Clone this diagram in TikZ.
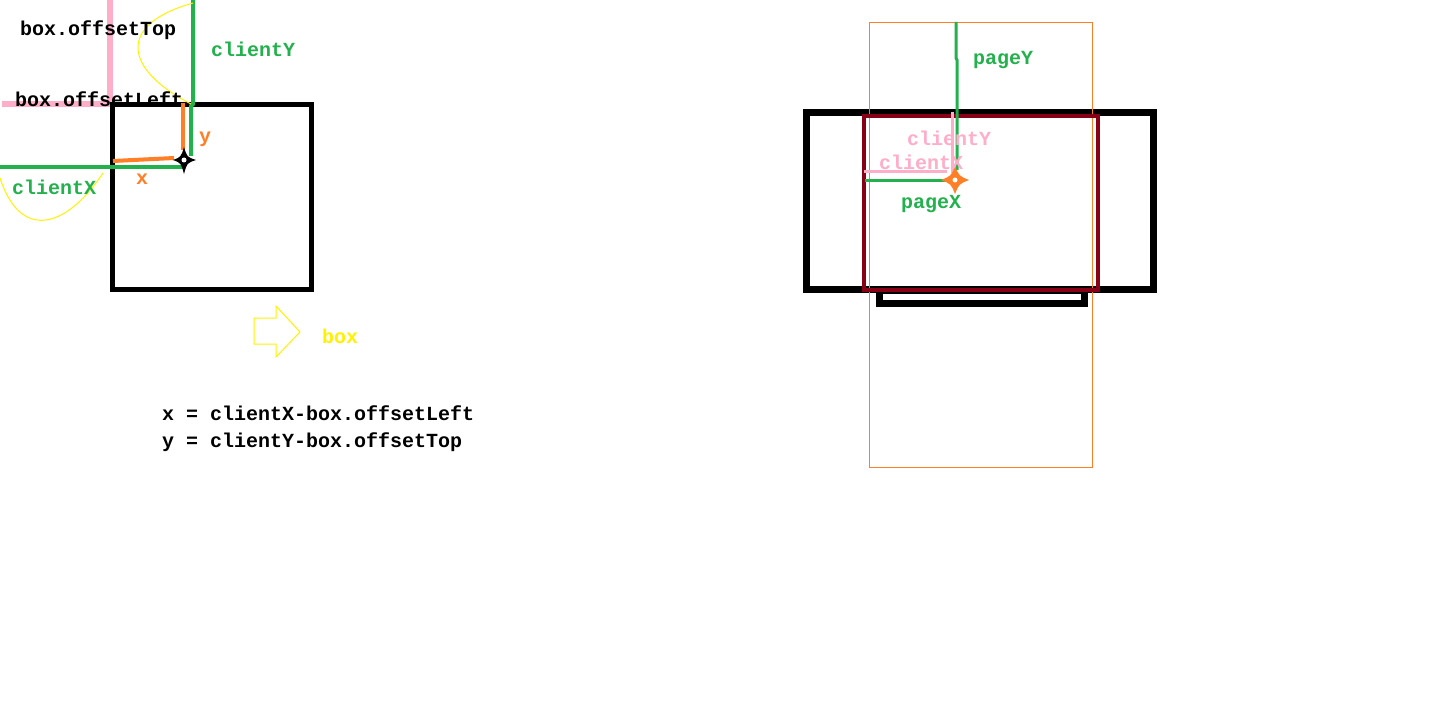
\documentclass[tikz,border=0pt]{standalone}
\usepackage{fontspec}
\setmonofont{Liberation Mono}
\usetikzlibrary{positioning}
\definecolor{paintpink}{HTML}{FFAEC9}
\definecolor{paintgreen}{HTML}{22B14C}
\definecolor{paintorange}{HTML}{FF7F27}
\definecolor{paintyellow}{HTML}{FFF200}
\definecolor{paintred}{HTML}{880015}
\tikzset{
	every node/.style = {inner sep=0pt, anchor=base west, font=\ttfamily\bfseries\fontsize{20}{24}\selectfont},
	pinkpen/.style = {draw=paintpink, line width=6pt},
	greenpen/.style = {draw=paintgreen, line width=4pt},
	orangepen/.style = {draw=paintorange, line width=4pt},
	yellowpen/.style = {draw=paintyellow, line width=1pt},
	boxpen/.style = {draw=black, line width=5pt},
	greentext/.style = {text=paintgreen},
	pinktext/.style = {text=paintpink},
	orangetext/.style = {text=paintorange},
	star/.style = {line join=round}
}

\begin{document}
\begin{tikzpicture}[x=1pt, y=-1pt]
	\useasboundingbox[fill=white] (0,0) rectangle (1434,722);
	% left: offset inside the box
	\coordinate (ptr) at (184,160);
	\draw[pinkpen] (110,0) -- (110,107);
	\draw[pinkpen] (2,104) -- (110,104);
	\draw[boxpen] (112,105) rectangle (311,289);
	\draw[greenpen] (193,0) -- (193,104) -- (191,106) -- (191,156);
	\draw[greenpen] (0,167) -- (183,167);
	\draw[orangepen] (183,103) -- (183,150);
	\draw[orangepen] (113,161) -- (174,158);
	\fill[black, star, shift={(ptr)}] (0,-13) .. controls (3,-3) .. (12,0) .. controls (3,3) .. (0,14) .. controls (-3,3) .. (-11,0) .. controls (-3,-3) .. cycle;
	\fill[white] (ptr) circle (2.5);
	\draw[yellowpen] (193,3) .. controls (115,25) and (125,70) .. (191,104);
	\draw[yellowpen] (0,178) .. controls (20,240) and (65,230) .. (103,173);
	\draw[yellowpen] (254,318) -- (276,318) -- (276,306) -- (300,332) -- (276,357) -- (276,344) -- (254,344) -- cycle;
	\node (top) at (20,36) {box.offsetTop};
	\node (left) at (15,107) {box.offsetLeft};
	\node[greentext] (cy) at (211,57) {clientY};
	\node[greentext] (cx) at (12,195) {clientX};
	\node[orangetext] (ly) at (199,143) {y};
	\node[orangetext] (lx) at (136,185) {x};
	\node[text=paintyellow] (boxname) at (322,343) {box};
	\node (xlaw) at (162,420) {x = clientX-box.offsetLeft};
	\node (ylaw) at (162,447) {y = clientY-box.offsetTop};
	% right: page and client
	\coordinate (mouse) at (955,180);
	\draw[black, line width=7pt] (879.5,290) rectangle (1084.5,303.5);
	\draw[black, line width=7pt] (806.5,112.5) rectangle (1153.5,289.5);
	\draw[paintorange, line width=1pt] (869.5,22.5) rectangle (1092.5,467.5);
	\draw[paintred, line width=4pt] (864,116) rectangle (1098,290);
	\draw[greenpen, line width=3pt] (956,22) -- (956,58) -- (957,60) -- (957,170);
	\draw[greenpen, line width=3pt] (865,181) -- (947,181);
	\draw[pinkpen, line width=3pt] (952,112) -- (952,173);
	\draw[pinkpen, line width=3pt] (864,172) -- (947,172);
	\fill[paintorange, star, shift={(mouse)}] (0,-14) .. controls (4,-4) .. (14,0) .. controls (4,4) .. (0,14) .. controls (-4,4) .. (-14,0) .. controls (-4,-4) .. cycle;
	\fill[white] (mouse) circle (2.5);
	\node[greentext] (py) at (973,65) {pageY};
	\node[pinktext] (ry) at (907,146) {clientY};
	\node[pinktext] (rx) at (879,170) {clientX};
	\node[greentext] (px) at (901,208) {pageX};
\end{tikzpicture}
\end{document}
